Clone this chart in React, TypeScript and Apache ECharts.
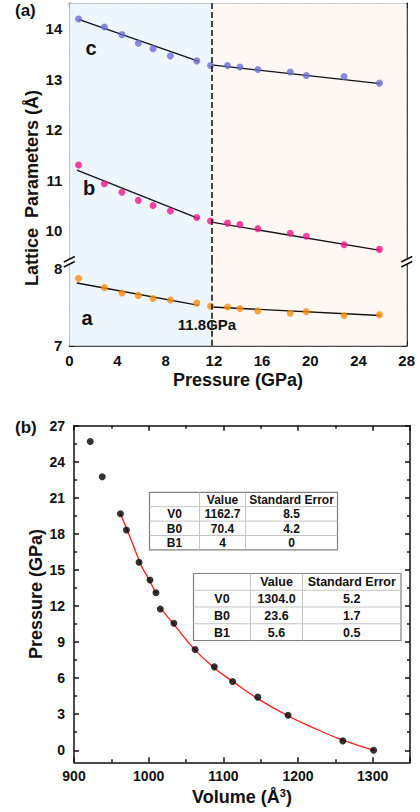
import React, { useEffect, useRef } from 'react';
import * as echarts from 'echarts';

// ---------- Data (a) ----------
const pressure = [0.77, 2.91, 4.37, 5.73, 6.95, 8.39, 10.58, 11.72, 13.13, 14.16, 15.65, 18.34, 19.67, 22.8, 25.74];
const latticeC = [14.19, 14.03, 13.88, 13.71, 13.6, 13.46, 13.36, 13.27, 13.27, 13.24, 13.19, 13.14, 13.07, 13.05, 12.92];
const latticeB = [11.3, 10.93, 10.76, 10.6, 10.5, 10.39, 10.26, 10.19, 10.15, 10.12, 10.04, 9.95, 9.89, 9.72, 9.63];
const latticeA = [7.87, 7.75, 7.68, 7.65, 7.61, 7.59, 7.55, 7.51, 7.5, 7.48, 7.45, 7.42, 7.44, 7.39, 7.4];

const fitC1 = [[0.77, 14.18], [10.75, 13.35]];
const fitC2 = [[11.8, 13.28], [25.8, 12.91]];
const fitB1 = [[0.63, 11.2], [10.75, 10.24]];
const fitB2 = [[11.8, 10.17], [25.8, 9.61]];
const fitA1 = [[0.63, 7.81], [10.75, 7.52]];
const fitA2 = [[11.8, 7.5], [25.8, 7.39]];

const transitionP = 11.8;
const xTicksA = [0, 28, 4];
const yUpperMajor = [10, 11, 12, 13, 14];
const yUpperMinor = [9.5, 10.5, 11.5, 12.5, 13.5, 14.5];
const yLowerMajor = [7, 8];
const yLowerMinor = [7.5];

// ---------- Data (b) ----------
const volume = [921.8, 937.8, 962.2, 970.2, 987.1, 1001.8, 1009.8, 1015.6, 1033.8, 1062.2, 1088.0, 1112.4, 1146.2, 1186.7, 1260.0, 1301.3];
const eosPressure = [25.69, 22.75, 19.67, 18.33, 15.64, 14.17, 13.11, 11.75, 10.56, 8.39, 6.94, 5.72, 4.42, 2.92, 0.78, 0];
const fitHighV = [962, 975, 990, 1000, 1010];
const fitHighP = [19.7, 17.75, 15.4, 14.25, 13.05];
const fitLowV = [1016, 1034, 1062, 1088, 1112, 1146, 1187, 1225, 1260, 1302];
const fitLowP = [11.8, 10.45, 8.35, 6.85, 5.75, 4.3, 2.85, 1.75, 0.85, 0];
const xTicksB = [900, 1350, 100];
const yMajorB = [0, 3, 6, 9, 12, 15, 18, 21, 24, 27];
const yMinorB = [1.5, 4.5, 7.5, 10.5, 13.5, 16.5, 19.5, 22.5, 25.5];

const tableHeader = ['', 'Value', 'Standard Error'];
const table1Rows = [['V0', '1162.7', '8.5'], ['B0', '70.4', '4.2'], ['B1', '4', '0']];
const table2Rows = [['V0', '1304.0', '5.2'], ['B0', '23.6', '1.7'], ['B1', '5.6', '0.5']];

// ---------- Styles ----------
const FONT = '"Liberation Sans", Arial, Helvetica, sans-serif';
const INK = '#111';
const COLOR_C = '#6a6fd6';
const COLOR_B = '#f2148a';
const COLOR_A = '#fb8c0c';
const BG_LOW = '#edf5fd';
const BG_HIGH = '#fdf8f4';

const lineSt = { color: INK, width: 1.5 };
const plain = (v: number) => String(v);

function xAx(grid: number, position: string, min: number, max: number, interval: number, labels: boolean, fontSize = 15, showMax = true) {
  return {
    type: 'value', gridIndex: grid, position, min, max, interval,
    axisLine: { show: true, onZero: false, lineStyle: lineSt },
    axisTick: { show: true, inside: true, length: 5, lineStyle: lineSt },
    minorTick: { show: true, splitNumber: 2, length: 3, lineStyle: lineSt },
    axisLabel: labels
      ? {
          show: true, fontSize, fontWeight: 'bold', color: INK, fontFamily: FONT, margin: 7,
          showMinLabel: true, showMaxLabel: showMax,
          formatter: (v: number) => (v > max - interval / 2 && v !== max ? '' : (v === max && !showMax ? '' : plain(v))),
        }
      : { show: false },
    splitLine: { show: false },
    minorSplitLine: { show: false },
  };
}

function yAxes(grid: number, min: number, max: number, majors: number[], minors: number[], fontSize: number, margin: number) {
  const out: any[] = [];
  for (const pos of ['left', 'right']) {
    out.push({
      type: 'value', gridIndex: grid, position: pos, min, max,
      axisLine: { show: true, onZero: false, lineStyle: lineSt },
      axisTick: { show: true, inside: true, length: 5, lineStyle: lineSt, customValues: majors },
      axisLabel: pos === 'left'
        ? { show: true, customValues: majors, fontSize, fontWeight: 'bold', color: INK, fontFamily: FONT, margin, formatter: plain }
        : { show: false },
      splitLine: { show: false },
    });
    out.push({
      type: 'value', gridIndex: grid, position: pos, min, max,
      axisLine: { show: false, onZero: false },
      axisTick: { show: true, inside: true, length: 3, lineStyle: lineSt, customValues: minors },
      axisLabel: { show: false },
      splitLine: { show: false },
    });
  }
  return out;
}

const pairs = (xs: number[], ys: number[]) => xs.map((x, i) => [x, ys[i]]);

function scatter(name: string, xi: number, yi: number, data: number[][], color: string, size = 7) {
  return { name, type: 'scatter', xAxisIndex: xi, yAxisIndex: yi, data, symbolSize: size, itemStyle: { color }, z: 3 };
}
function fitLine(name: string, xi: number, yi: number, data: number[][], color: string, smooth = false) {
  return {
    name, type: 'line', xAxisIndex: xi, yAxisIndex: yi, data, showSymbol: false, symbol: 'none', smooth,
    lineStyle: { color, width: 1.3 }, z: 2,
  };
}
function bgSeries(xi: number, yi: number) {
  return {
    type: 'scatter', xAxisIndex: xi, yAxisIndex: yi, data: [], z: 1, silent: true,
    markArea: {
      silent: true,
      data: [
        [{ xAxis: xTicksA[0], itemStyle: { color: BG_LOW } }, { xAxis: transitionP }],
        [{ xAxis: transitionP, itemStyle: { color: BG_HIGH } }, { xAxis: xTicksA[1] }],
      ],
    },
    markLine: {
      silent: true, symbol: ['none', 'none'], label: { show: false },
      lineStyle: { type: [6, 3], color: '#1a1a1a', width: 1.6 },
      data: [{ xAxis: transitionP }],
    },
  };
}

function txt(text: string, x: number, y: number, size: number, align = 'center', rotation = 0, extra: any = {}) {
  return {
    type: 'text', x, y, rotation, z: 50,
    style: {
      text, fill: INK, font: `bold ${size}px ${FONT}`,
      textAlign: align, textVerticalAlign: 'middle', align, verticalAlign: 'middle', ...extra,
    },
  };
}

function table(x0: number, y0: number, colW: number[], rowH: number, header: string[], rows: string[][], fontSize: number) {
  const children: any[] = [];
  const all = [header, ...rows];
  const totalW = colW.reduce((a, b) => a + b, 0);
  const totalH = rowH * all.length;
  children.push({ type: 'rect', z: 40, shape: { x: x0, y: y0, width: totalW, height: totalH }, style: { fill: '#fff', stroke: '#808080', lineWidth: 1.2 } });
  let cx = x0;
  for (let i = 0; i < colW.length - 1; i++) {
    cx += colW[i];
    children.push({ type: 'line', z: 41, shape: { x1: cx, y1: y0, x2: cx, y2: y0 + totalH }, style: { stroke: '#c4c4c4', lineWidth: 1 } });
  }
  for (let r = 1; r < all.length; r++) {
    children.push({ type: 'line', z: 41, shape: { x1: x0, y1: y0 + r * rowH, x2: x0 + totalW, y2: y0 + r * rowH }, style: { stroke: '#c4c4c4', lineWidth: 1 } });
  }
  all.forEach((row, r) => {
    let left = x0;
    row.forEach((cell, c) => {
      if (cell) children.push(txt(cell, left + colW[c] / 2, y0 + r * rowH + rowH / 2 + 0.5, fontSize));
      left += colW[c];
    });
  });
  return children;
}

function breakMark(x: number, y: number) {
  return [
    { type: 'rect', z: 45, shape: { x: x - 1.5, y: y - 2.5, width: 3, height: 5 }, style: { fill: '#fff' } },
    { type: 'line', z: 46, shape: { x1: x - 5.5, y1: y + 0.5, x2: x + 5.5, y2: y - 5 }, style: { stroke: INK, lineWidth: 1.5 } },
    { type: 'line', z: 46, shape: { x1: x - 5.5, y1: y + 5.5, x2: x + 5.5, y2: y }, style: { stroke: INK, lineWidth: 1.5 } },
  ];
}

const option: any = {
  animation: false,
  backgroundColor: '#fff',
  grid: [
    { left: 69.3, top: 3.3, width: 337.4, height: 257.7, outerBoundsMode: 'none' },
    { left: 69.3, top: 261, width: 337.4, height: 84.7, outerBoundsMode: 'none' },
    { left: 74, top: 425.7, width: 336, height: 336.6, outerBoundsMode: 'none' },
  ],
  xAxis: [
    xAx(0, 'top', xTicksA[0], xTicksA[1], xTicksA[2], false),
    xAx(1, 'bottom', xTicksA[0], xTicksA[1], xTicksA[2], true, 15, true),
    xAx(2, 'bottom', xTicksB[0], xTicksB[1], xTicksB[2], true, 14, false),
    xAx(2, 'top', xTicksB[0], xTicksB[1], xTicksB[2], false),
  ],
  yAxis: [
    ...yAxes(0, 9.4, 14.5, yUpperMajor, yUpperMinor, 15, 7),
    ...yAxes(1, 7, 8.094, yLowerMajor, yLowerMinor, 15, 7),
    ...yAxes(2, -1, 27, yMajorB, yMinorB, 14, 9),
  ],
  series: [
    bgSeries(0, 0),
    bgSeries(1, 4),
    fitLine('c fit 1', 0, 0, fitC1, INK),
    fitLine('c fit 2', 0, 0, fitC2, INK),
    fitLine('b fit 1', 0, 0, fitB1, INK),
    fitLine('b fit 2', 0, 0, fitB2, INK),
    fitLine('a fit 1', 1, 4, fitA1, INK),
    fitLine('a fit 2', 1, 4, fitA2, INK),
    scatter('c', 0, 0, pairs(pressure, latticeC), COLOR_C),
    scatter('b', 0, 0, pairs(pressure, latticeB), COLOR_B),
    scatter('a', 1, 4, pairs(pressure, latticeA), COLOR_A),
    fitLine('BM fit high', 2, 8, pairs(fitHighV, fitHighP), '#ff1a1a', true),
    fitLine('BM fit low', 2, 8, pairs(fitLowV, fitLowP), '#ff1a1a', true),
    scatter('P-V', 2, 8, pairs(volume, eosPressure), '#000', 7),
  ],
  graphic: [
    txt('(a)', 15, 10, 17, 'left'),
    txt('(b)', 15, 427, 17, 'left'),
    txt('c', 91, 48, 20),
    txt('b', 89, 188, 20),
    txt('a', 87, 318, 20),
    txt('11.8GPa', 207, 324, 15),
    txt('Lattice  Parameters (Å)', 32, 188, 18, 'center', Math.PI / 2),
    txt('Pressure (GPa)', 238, 380, 18),
    txt('Pressure (GPa)', 36, 594, 18, 'center', Math.PI / 2),
    {
      type: 'text', x: 242, y: 797, z: 50,
      style: {
        text: '{n|Volume (Å}{s|3}{n|)}',
        textAlign: 'center', textVerticalAlign: 'middle', align: 'center', verticalAlign: 'middle',
        rich: {
          n: { fontSize: 18, fontWeight: 'bold', fontFamily: FONT, fill: INK, color: INK },
          s: { fontSize: 11, fontWeight: 'bold', fontFamily: FONT, fill: INK, color: INK, padding: [0, 0, 9, 0] },
        },
      },
    },
    ...breakMark(69.3, 261.5),
    ...breakMark(406.7, 261.5),
    ...table(149.5, 492.3, [50, 46, 92], 14.4, tableHeader, table1Rows, 12),
    ...table(193.5, 573.5, [57, 52, 98.5], 16.75, tableHeader, table2Rows, 12.5),
  ],
};

export default function App() {
  const ref = useRef<HTMLDivElement>(null);
  useEffect(() => {
    const chart = echarts.init(ref.current!, null, { renderer: 'svg' });
    chart.setOption(option);
    return () => chart.dispose();
  }, []);
  return (
    <div
      ref={ref}
      style={{ position: 'fixed', left: 0, top: 0, width: 420, height: 812, background: '#fff' }}
    />
  );
}
